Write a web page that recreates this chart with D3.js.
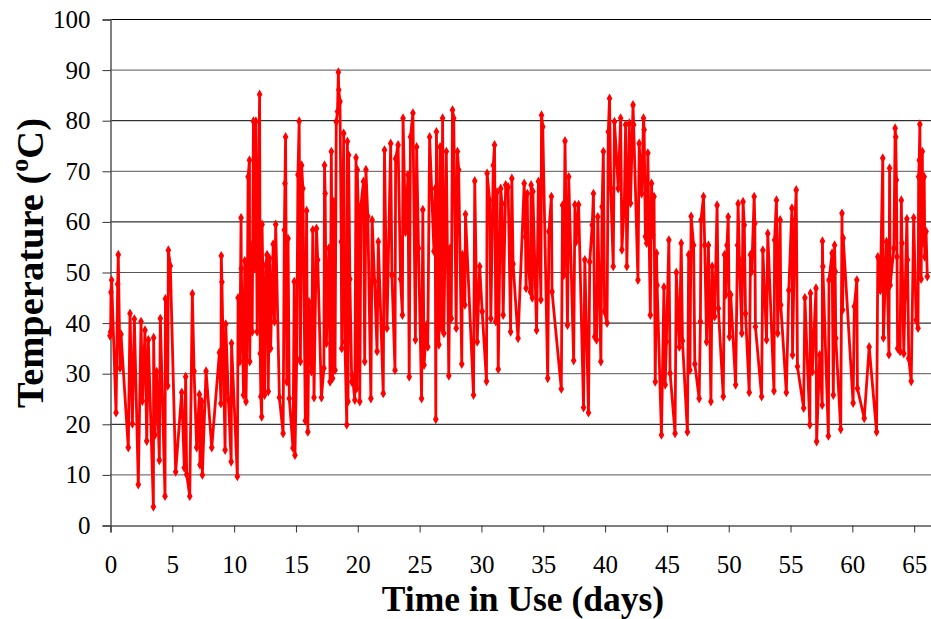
<!DOCTYPE html>
<html><head><meta charset="utf-8">
<script src="https://cdn.jsdelivr.net/npm/d3@7"></script>
<style>body{margin:0;background:#fff} svg text{font-family:"Liberation Serif","Times New Roman",serif;}</style>
</head><body>
<svg id="c" width="931" height="619"></svg>
<script>
const days = [0.0,0.05,0.08,0.13,0.49,0.62,0.67,0.81,0.89,1.48,1.62,1.81,1.97,2.29,2.51,2.62,2.83,2.97,3.10,3.51,3.53,3.64,3.78,3.99,4.07,4.45,4.48,4.67,4.72,4.88,5.31,5.80,6.01,6.12,6.20,6.45,6.66,6.80,7.01,7.23,7.28,7.42,7.47,7.77,8.23,
8.85,8.97,9.0,9.05,9.31,9.36,9.58,9.80,9.83,10.3,10.36,10.5,10.6,10.62,10.8,10.9,11.0,11.1,11.17,11.28,11.3,11.4,11.5,11.6,11.7,11.8,11.9,12.1,12.15,12.2,12.27,12.3,12.5,12.6,12.7,12.8,12.9,12.99,13.2,13.3,13.4,13.7,14.0,14.1,14.15,14.2,14.3,14.4,14.5,14.8,14.9,14.96,15.1,15.2,15.3,15.4,15.5,15.6,15.8,15.9,16.0,16.1,16.3,16.4,16.5,
16.7,16.8,17.1,17.3,17.35,17.4,17.5,17.7,17.8,17.9,18.0,18.1,18.2,18.3,18.4,18.47,18.5,18.6,18.7,18.74,18.9,19.0,19.15,19.2,19.25,19.3,19.4,19.55,19.6,19.8,19.9,19.95,20.0,20.1,20.2,20.3,20.5,20.6,20.7,20.85,21.1,21.2,21.4,21.6,21.7,22.1,22.2,22.4,22.7,22.8,23.05,23.1,23.3,23.5,23.65,23.7,23.9,24.1,24.2,24.3,24.5,24.7,24.8,24.95,25.2,
25.3,25.4,25.6,25.7,25.85,26.2,26.3,26.35,26.4,26.6,26.7,26.8,26.9,27.0,27.2,27.4,27.5,27.6,27.7,27.8,28.0,28.1,28.2,28.45,28.5,28.7,28.75,29.4,29.5,29.7,29.9,30.1,30.45,30.5,30.7,30.8,31.0,31.1,31.2,31.3,31.4,31.6,31.7,31.8,32.0,32.2,32.4,32.5,32.6,33.0,33.5,33.6,33.65,33.75,
33.8,34.0,34.06,34.15,34.2,34.5,34.65,34.85,34.9,35.0,35.4,35.5,35.7,35.75,36.5,36.6,36.7,36.8,37.0,37.1,37.5,37.6,37.7,37.9,38.3,38.4,38.7,38.8,39.0,39.1,39.2,39.35,39.45,39.7,39.8,39.9,40.0,40.2,40.3,40.4,40.5,40.7,40.8,41.0,41.1,41.3,41.4,41.6,41.7,41.8,42.0,42.1,
42.3,42.35,42.7,42.8,43.0,43.15,43.2,43.3,43.4,43.5,43.7,43.8,43.9,44.0,44.1,44.2,44.25,44.6,44.8,44.9,45.0,45.2,45.3,45.7,45.8,46.05,46.2,46.3,46.7,46.8,46.9,47.0,47.2,47.3,47.65,47.75,47.8,48.0,48.1,48.25,48.4,48.6,48.7,48.9,49.1,49.2,49.6,49.7,49.8,49.9,50.0,50.1,50.2,50.6,50.75,50.8,
50.9,51.1,51.2,51.3,51.4,51.7,51.8,51.9,52.1,52.15,52.2,52.7,52.8,53.1,53.2,53.7,53.75,53.9,54.0,54.2,54.25,54.7,54.9,55.15,55.2,55.4,55.5,55.6,56.1,56.2,56.6,56.65,56.8,57.1,57.15,57.4,57.6,57.62,57.65,58.1,58.15,58.4,58.5,58.6,58.65,58.7,59.1,59.2,59.25,59.3,
60.1,60.2,60.4,60.45,61.0,61.4,62.0,62.1,62.3,62.5,62.55,62.8,63.0,63.05,63.1,63.4,63.5,63.55,63.6,63.65,63.7,63.9,64.0,64.05,64.2,64.3,64.45,64.5,64.6,64.8,65.0,65.2,65.35,65.4,65.45,65.5,65.6,65.7,65.75,65.85,65.9,66.0,66.1];
const temps = [37.4,38.2,46,48.4,22.2,47.6,53.4,31,37.7,15.3,41.8,20,40.7,8,40.2,24.5,38.5,16.6,36.6,3.6,37,17.8,30.3,12.8,40.8,5.7,44.7,27.5,54.3,51.2,10.5,26.2,11.3,29.3,10,5.7,45.7,30.4,15.3,25.8,11.9,24.4,9.9,30.4,15.3,
34.1,24,53.2,48,14.8,39.7,24.7,12.5,35.9,9.6,44.9,32.3,60.7,50.7,25.7,52.2,24.4,41.6,68.8,72.1,32.3,55.3,38.2,79.8,50.7,79.8,38.2,85.1,33.9,25.4,21.4,59.4,25.7,51.4,53.4,26.4,52.7,34.9,55.5,40.2,59.4,25.2,18.1,58.3,67.5,76.7,28.3,56.6,25,15.2,48.1,13.8,32.9,69.2,79.8,32.3,71.1,66.5,20.6,62.1,18.4,44.1,30.3,58.3,25.2,
58.6,52.4,25.2,31,71.1,65.5,35.9,54.7,28.3,73.8,29,63.9,30.6,79.7,81.7,89.5,86,83.7,56,34.9,77.4,36.2,19.8,75.8,24.4,73.1,48.6,28.3,29.6,24.7,72.6,27,70.2,59.6,24.4,63.2,67.9,32.3,70.2,61,25,60.3,48.1,34.3,56,26,74.1,38.9,75.4,49.4,30.6,72.4,75.1,48.6,41.5,80.4,57.9,69.2,29.3,76.7,81.4,36.6,74.7,54.7,25,
62.3,31.6,39.5,35.2,76.7,54.1,66.5,20.9,77.7,35.6,74.7,38.9,80.4,37.9,73.8,29.5,54.7,40.8,82,80.4,38.9,73.8,70.2,31.8,53.4,43.5,61.4,25.7,68,36.2,51.1,42.2,28.4,69.5,64.2,40.8,71.1,75.1,40.2,65.8,30.8,66.5,63.5,41.5,67.2,66.8,38.2,68.5,51.6,36.9,67.5,57,46.8,65.5,
53.4,46.1,67.2,44.9,65.9,38.5,67.9,44.5,81,78.7,29,58,64.9,46.1,26.9,63.2,49.4,75.9,39.5,68.8,32.5,63.3,56,63.3,23.2,52.4,22.2,52,59.3,65.5,37.2,36.6,60.9,32.3,62.9,73.8,42.2,39.9,77.7,84.3,66.5,51.1,79.7,71.5,66.5,80.4,54.4,63.9,79.1,51.1,79.4,63.6,
83,79.1,48.4,75.4,65.5,80.4,78.1,57,55.7,73.5,41.5,67.5,57.3,64.9,28.3,53.7,47.4,17.8,47,27.7,36.2,56.3,30,18.1,49.9,35.2,55.7,36.4,18.4,53.4,30.6,61,55.3,31.8,25,40.2,60.3,64.9,55.3,36.2,55.3,24.4,51.1,41.2,63.2,42.8,25.4,53.4,45.5,55.3,60.9,37.2,45.5,27.7,55.3,63.5,
52.4,37.9,63.9,59.3,41.8,26.2,53.4,50.1,64.9,59.6,39.2,25.4,54.3,36.6,57.6,26.5,56.3,64.2,37.9,60.3,43.5,26.2,46.4,62.6,33.6,60.3,66.2,31.3,23.1,44.9,19.8,45.8,30.3,46.8,16.5,33.6,23.7,56.1,51.1,17.6,48.4,53.7,25.7,55.3,50.1,36.9,18.9,61.6,42.5,56.7,
24.1,43.2,48.4,27,21.1,35.2,18.4,53,46.4,72.5,37,56,33.7,70.5,47.4,54.7,78.4,76.7,68.2,53,34.9,34.3,64.2,55.7,33.9,44.9,60.5,52.4,32.9,28.4,60.7,40.5,38.9,68.8,72.1,79.2,48.6,73.8,55.7,68.8,53,58,49.1];
const yTicks = [0,10,20,30,40,50,60,70,80,90,100];
const xTicks = [0,5,10,15,20,25,30,35,40,45,50,55,60,65];

const svg = d3.select("#c");
const x = d3.scaleLinear().domain([0, 66.4]).range([110, 931]);
const y = d3.scaleLinear().domain([0, 100]).range([525, 19]);
const font = "Liberation Serif";

// gridlines
svg.append("g").selectAll("line").data(yTicks.filter(d=>d>0)).join("line")
  .attr("x1",110).attr("x2",931).attr("y1",d=>y(d)+0.5).attr("y2",d=>y(d)+0.5)
  .attr("stroke",d=>d%20===0?"#000":"#555").attr("stroke-width",1);

// axes
const yAxis = d3.axisLeft(y).tickValues(yTicks).tickSize(8).tickPadding(12);
const gy = svg.append("g").attr("transform","translate(110.5,0.5)").call(yAxis);
gy.attr("font-family",font);
gy.select(".domain").attr("stroke","#555").attr("stroke-width",1.5);
gy.selectAll(".tick line").attr("stroke","#333");
gy.selectAll("text").attr("font-family",font).attr("font-size",25).attr("fill","#000");

const xAxis = d3.axisBottom(x).tickValues(xTicks).tickSize(7).tickPadding(23);
const gx = svg.append("g").attr("transform","translate(0.5,525.5)").call(xAxis);
gx.attr("font-family",font);
gx.select(".domain").attr("stroke","#555").attr("stroke-width",1.5);
gx.selectAll(".tick line").attr("stroke","#333");
gx.selectAll("text").attr("font-family",font).attr("font-size",25).attr("fill","#000");

// series
const data = days.map((d,i)=>({d, t: temps[i]}));
svg.append("path").datum(data)
  .attr("fill","none").attr("stroke","#ff0000").attr("stroke-width",2.8).attr("stroke-linejoin","round")
  .attr("d", d3.line().x(p=>x(p.d)).y(p=>y(p.t)));
svg.append("g").selectAll("path").data(data).join("path")
  .attr("transform",p=>`translate(${x(p.d)},${y(p.t)})`)
  .attr("d", d3.symbol(d3.symbolDiamond, 28)())
  .attr("fill","#ff0000");

// labels
svg.append("text").attr("x",523).attr("y",611).attr("text-anchor","middle")
  .attr("font-family",font).attr("font-weight","bold").attr("font-size",35.5).text("Time in Use (days)");
const yl = svg.append("text").attr("transform","translate(43,263) rotate(-90)").attr("text-anchor","middle")
  .attr("font-family",font).attr("font-weight","bold").attr("font-size",38.5);
yl.append("tspan").text("Temperature (");
yl.append("tspan").attr("font-size",26).attr("dy",-15).text("o");
yl.append("tspan").attr("dy",15).text("C)");
</script>
</body></html>
